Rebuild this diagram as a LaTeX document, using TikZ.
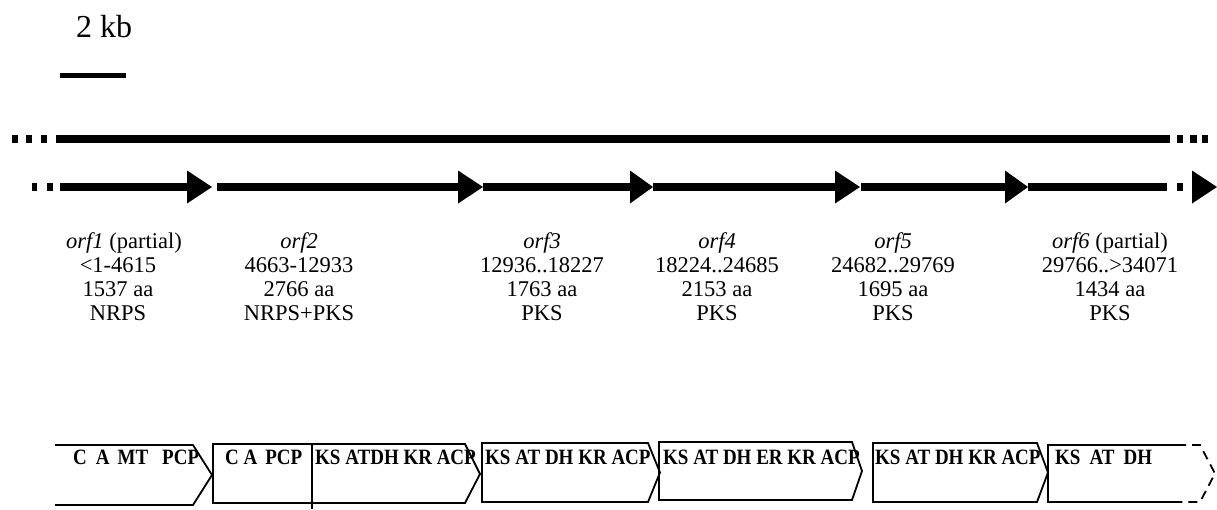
\documentclass[tikz,border=0pt]{standalone}
\usepackage{fontspec}
\setmainfont{Liberation Serif}
\begin{document}
\begin{tikzpicture}[x=1pt,y=-1pt,
  dna/.style={line width=8pt},
  gene/.style={line width=7.5pt},
  head/.style={fill=black},
  sq/.style={fill=black},
  dom/.style={draw=black, line width=1.8pt, line join=miter},
  domdash/.style={dom, dash pattern=on 9pt off 6pt},
  lab/.style={anchor=base, inner sep=0, font=\fontsize{22.5}{26}\selectfont},
  domtxt/.style={anchor=base west, inner sep=0, font=\fontsize{19}{22}\selectfont\bfseries},
]
\useasboundingbox (0,0) rectangle (1217,509);

% scale bar
\node[anchor=base, inner sep=0, font=\fontsize{32}{36}\selectfont] (kb) at (104,37) {2 kb};
\coordinate (sbA) at (60,75.5);
\coordinate (sbB) at (126,75.5);
\draw[line width=4.5pt] (sbA) -- (sbB);

% DNA line
\coordinate (dnaA) at (56,139);
\coordinate (dnaB) at (1170,139);
\draw[dna] (dnaA) -- (dnaB);
\fill[sq] (12,135) rectangle (18,143);
\fill[sq] (26,135) rectangle (32,143);
\fill[sq] (41,135) rectangle (47,143);
\fill[sq] (1177,135) rectangle (1183,143);
\fill[sq] (1190,135) rectangle (1197,143);
\fill[sq] (1202,135) rectangle (1208,143);

% genes
\fill[sq] (32,183.25) rectangle (37,190.75);
\fill[sq] (47,183.25) rectangle (53,190.75);
\coordinate (g1s) at (60,187);   \coordinate (g1b) at (187,187); \coordinate (g1t) at (212,187);
\coordinate (g2s) at (217,187);  \coordinate (g2b) at (458,187); \coordinate (g2t) at (483,187);
\coordinate (g3s) at (483,187);  \coordinate (g3b) at (630,187); \coordinate (g3t) at (653,187);
\coordinate (g4s) at (653,187);  \coordinate (g4b) at (835,187); \coordinate (g4t) at (860,187);
\coordinate (g5s) at (861,187);  \coordinate (g5b) at (1005,187); \coordinate (g5t) at (1028,187);
\coordinate (g6s) at (1028,187); \coordinate (g6e) at (1167,187); \coordinate (g6b) at (1192,187); \coordinate (g6t) at (1217,187);
\draw[gene] (g1s) -- (g1b);
\draw[gene] (g2s) -- (g2b);
\draw[gene] (g3s) -- (g3b);
\draw[gene] (g4s) -- (g4b);
\draw[gene] (g5s) -- (g5b);
\draw[gene] (g6s) -- (g6e);
\fill[sq] (1177,183.25) rectangle (1183,190.75);
\foreach \b/\t in {g1b/g1t,g2b/g2t,g3b/g3t,g4b/g4t,g5b/g5t,g6b/g6t}{
  \fill[head] ([yshift=-16.5pt]\b) -- (\t) -- ([yshift=16.5pt]\b) -- cycle;
}

% labels
\node[lab] (o1a) at (124,248) {\textit{orf1} (partial)};
\node[lab] (o1b) at (118,272) {<1-4615};
\node[lab] (o1c) at (118,296) {1537 aa};
\node[lab] (o1d) at (118,320) {NRPS};

\node[lab] (o2a) at (299,248) {\textit{orf2}};
\node[lab] (o2b) at (299,272) {4663-12933};
\node[lab] (o2c) at (299,296) {2766 aa};
\node[lab] (o2d) at (299,320) {NRPS+PKS};

\node[lab] (o3a) at (542,248) {\textit{orf3}};
\node[lab] (o3b) at (542,272) {12936..18227};
\node[lab] (o3c) at (542,296) {1763 aa};
\node[lab] (o3d) at (542,320) {PKS};

\node[lab] (o4a) at (717,248) {\textit{orf4}};
\node[lab] (o4b) at (717,272) {18224..24685};
\node[lab] (o4c) at (717,296) {2153 aa};
\node[lab] (o4d) at (717,320) {PKS};

\node[lab] (o5a) at (893,248) {\textit{orf5}};
\node[lab] (o5b) at (893,272) {24682..29769};
\node[lab] (o5c) at (893,296) {1695 aa};
\node[lab] (o5d) at (893,320) {PKS};

\node[lab] (o6a) at (1110,248) {\textit{orf6} (partial)};
\node[lab] (o6b) at (1110,272) {29766..>34071};
\node[lab] (o6c) at (1110,296) {1434 aa};
\node[lab] (o6d) at (1110,320) {PKS};

% domain boxes
\draw[dom] (55,445) -- (193,445) -- (212,475) -- (193,505) -- (55,505);
\draw[dom] (213,444) -- (465,444) -- (480,474) -- (465,503) -- (213,503) -- cycle;
\draw[dom] (312,444) -- (312,509);
\draw[dom] (482,443) -- (648,443) -- (660,472.5) -- (648,502) -- (482,502) -- cycle;
\draw[dom] (659,442) -- (852,442) -- (862,471) -- (852,500) -- (659,500) -- cycle;
\draw[dom] (873,443) -- (1037,443) -- (1048,472.5) -- (1037,502) -- (873,502) -- cycle;
\draw[dom] (1177,445) -- (1048,445) -- (1048,502) -- (1177,502);
\draw[domdash] (1177,445) -- (1200,445) -- (1215,473.5) -- (1200,502) -- (1177,502);

\node[domtxt] (d1) at (73,464) {\scalebox{1}[1.15]{C\hspace{9pt}A\hspace{8pt}MT\hspace{14pt}PCP}};
\node[domtxt] (d2a) at (225,464) {\scalebox{1}[1.15]{C A\hspace{8pt}PCP}};
\node[domtxt] (d2b) at (315,464) {\scalebox{1}[1.15]{KS ATDH KR ACP}};
\node[domtxt] (d3) at (485,464) {\scalebox{1}[1.15]{KS AT DH KR ACP}};
\node[domtxt] (d4) at (663,464) {\scalebox{1}[1.15]{KS AT DH ER KR ACP}};
\node[domtxt] (d5) at (875,464) {\scalebox{1}[1.15]{KS AT DH KR ACP}};
\node[domtxt] (d6) at (1055,464) {\scalebox{1}[1.15]{KS\hspace{9pt}AT\hspace{9pt}DH}};
\end{tikzpicture}
\end{document}
